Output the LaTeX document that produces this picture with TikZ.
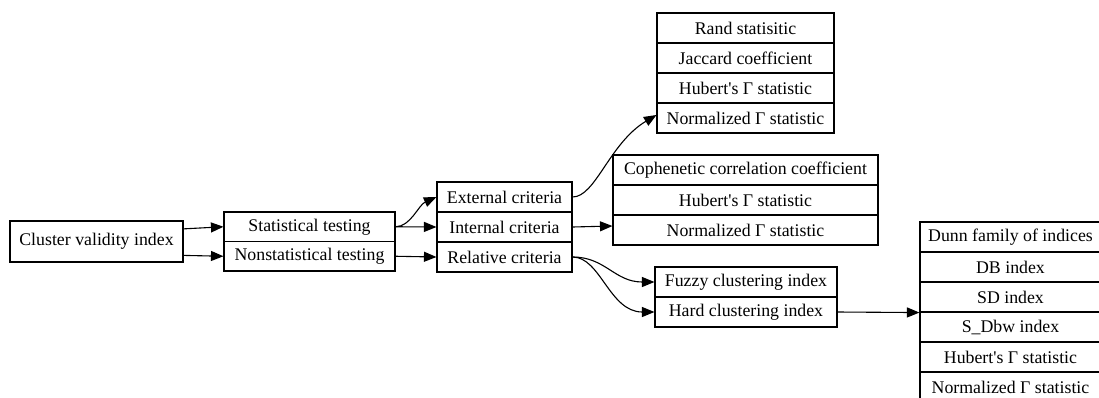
\documentclass[tikz,border=0pt]{standalone}
\usepackage{fontspec}
\newfontfamily\gvfont{Liberation Serif}
\usetikzlibrary{arrows.meta,calc}
\begin{document}
\begin{tikzpicture}[x=1bp,y=-1bp,
  cell/.style={draw, line width=1.1bp, rectangle, inner sep=0pt,
    minimum height=30bp, anchor=center,
    font={\gvfont\fontsize{17.8bp}{20bp}\selectfont}},
  edge/.style={line width=1.1bp, -{Triangle[length=12.5bp,width=10bp]}}]
\useasboundingbox (0,0) rectangle (1099,397);
\clip (0,0) rectangle (1099,397);

% root
\node[cell, minimum width=173bp, minimum height=41bp] (cvi) at (96.5,241.5) {Cluster validity index};

% testing record
\node[cell, minimum width=171bp, minimum height=29.5bp] (stat) at (309.5,226.75) {Statistical testing};
\node[cell, minimum width=171bp, minimum height=29.5bp] (nonstat) at (309.5,256.25) {Nonstatistical testing};

% criteria record
\node[cell, minimum width=135bp] (ext) at (504.5,197) {External criteria};
\node[cell, minimum width=135bp] (int) at (504.5,227) {Internal criteria};
\node[cell, minimum width=135bp] (rel) at (504.5,257) {Relative criteria};

% external criteria indices
\node[cell, minimum width=177bp] (rand) at (745.5,28) {Rand statisitic};
\node[cell, minimum width=177bp] (jac) at (745.5,58) {Jaccard coefficient};
\node[cell, minimum width=177bp] (hub1) at (745.5,88) {Hubert's Γ statistic};
\node[cell, minimum width=177bp] (norm1) at (745.5,118) {Normalized Γ statistic};

% internal criteria indices
\node[cell, minimum width=265bp] (coph) at (745.5,170) {Cophenetic correlation coefficient};
\node[cell, minimum width=265bp] (hub2) at (745.5,200) {Hubert's Γ statistic};
\node[cell, minimum width=265bp] (norm2) at (745.5,230) {Normalized Γ statistic};

% relative criteria
\node[cell, minimum width=182bp] (fuzzy) at (746,282) {Fuzzy clustering index};
\node[cell, minimum width=182bp] (hard) at (746,312) {Hard clustering index};

% hard clustering indices
\node[cell, minimum width=181bp] (dunn) at (1010.5,237) {Dunn family of indices};
\node[cell, minimum width=181bp] (db) at (1010.5,267) {DB index};
\node[cell, minimum width=181bp] (sd) at (1010.5,297) {SD index};
\node[cell, minimum width=181bp] (sdbw) at (1010.5,327) {S\_Dbw index};
\node[cell, minimum width=181bp] (hub3) at (1010.5,357) {Hubert's Γ statistic};
\node[cell, minimum width=181bp] (norm3) at (1010.5,387) {Normalized Γ statistic};

% connectors
\draw[edge] ($(cvi.north east)!0.2!(cvi.south east)$) -- (stat.west);
\draw[edge] ($(cvi.north east)!0.83!(cvi.south east)$) -- (nonstat.west);
\draw[edge] (stat.east) .. controls +(15,0) and +(-18,8) .. (ext.west);
\draw[edge] (stat.east) -- (int.west);
\draw[edge] (nonstat.east) -- (rel.west);
\draw[edge] (ext.east) .. controls +(23,0) and +(-47,28) .. ([yshift=3bp]norm1.west);
\draw[edge] (int.east) -- ([yshift=4bp]norm2.west);
\draw[edge] (rel.east) .. controls +(33,0) and +(-40,0) .. (fuzzy.west);
\draw[edge] (rel.east) .. controls +(28,0) and +(-45,0) .. (hard.west);
\draw[edge] (hard.east) -- (sd.south west);
\end{tikzpicture}
\end{document}
